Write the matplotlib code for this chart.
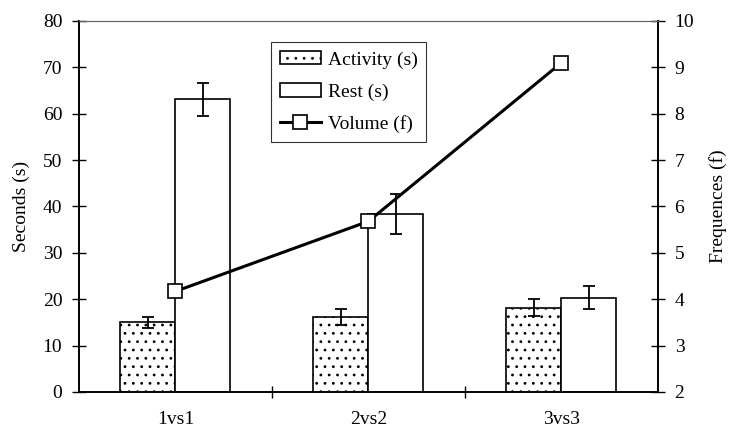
import matplotlib.pyplot as plt
import numpy as np

plt.rcParams['font.family'] = ['Liberation Serif', 'DejaVu Serif']
plt.rcParams['hatch.color'] = '#555555'
plt.rcParams['hatch.linewidth'] = 0.8

categories = ['1vs1', '2vs2', '3vs3']
activity = [15.0, 16.2, 18.2]
activity_err = [1.2, 1.75, 1.75]
rest = [63.1, 38.4, 20.3]
rest_err = [3.55, 4.3, 2.45]
volume = [4.17, 5.68, 9.1]

fig = plt.figure(figsize=(7.31, 4.37), dpi=100)
ax = fig.add_axes([0.108, 0.103, 0.792, 0.849])
ax2 = ax.twinx()

x = np.arange(len(categories))
w = 0.285

ax.bar(x - w / 2, activity, width=w, color='white', edgecolor='black',
       linewidth=1.2, hatch='..', label='Activity (s)')
ax.bar(x + w / 2, rest, width=w, color='white', edgecolor='black',
       linewidth=1.2, label='Rest (s)')
ax.errorbar(x - w / 2, activity, yerr=activity_err, fmt='none', ecolor='black',
            elinewidth=1.3, capsize=4, capthick=1.3)
ax.errorbar(x + w / 2, rest, yerr=rest_err, fmt='none', ecolor='black',
            elinewidth=1.3, capsize=4, capthick=1.3)

ax2.plot(x, volume, '-s', color='black', linewidth=2.2, markersize=10,
         markerfacecolor='white', markeredgecolor='black', markeredgewidth=1.2,
         label='Volume (f)')

ax.set_xlim(-0.5, 2.5)
ax.set_ylim(0, 80)
ax.set_yticks(np.arange(0, 81, 10))
ax2.set_ylim(2, 10)
ax2.set_yticks(np.arange(2, 11, 1))

ax.set_xticks(x)
ax.set_xticklabels(categories)
ax.set_xticks([0.5, 1.5], minor=True)
ax.tick_params(axis='x', which='major', length=0, pad=14, labelsize=14)
ax.tick_params(axis='x', which='minor', direction='inout', length=9, width=1)
ax.tick_params(axis='y', direction='inout', length=10, width=1, labelsize=14, pad=7)
ax2.tick_params(axis='y', direction='inout', length=10, width=1, labelsize=14, pad=7)

for a in (ax, ax2):
    a.spines['top'].set_color('#666666')
    a.spines['left'].set_linewidth(1.2)
    a.spines['right'].set_linewidth(1.2)
    a.spines['bottom'].set_linewidth(1.2)

ax.set_ylabel('Seconds (s)', fontsize=14, labelpad=9)
ax2.set_ylabel('Frequences (f)', fontsize=14, labelpad=11)

h1, l1 = ax.get_legend_handles_labels()
h2, l2 = ax2.get_legend_handles_labels()
leg = ax2.legend(h1 + h2, l1 + l2, loc='upper left', bbox_to_anchor=(0.332, 0.943),
                 borderaxespad=0, fontsize=14, frameon=True, fancybox=False,
                 edgecolor='black', handlelength=2.1, borderpad=0.45,
                 labelspacing=0.75, handletextpad=0.35)
leg.get_frame().set_linewidth(0.8)

fig.savefig('out.png', dpi=100)
